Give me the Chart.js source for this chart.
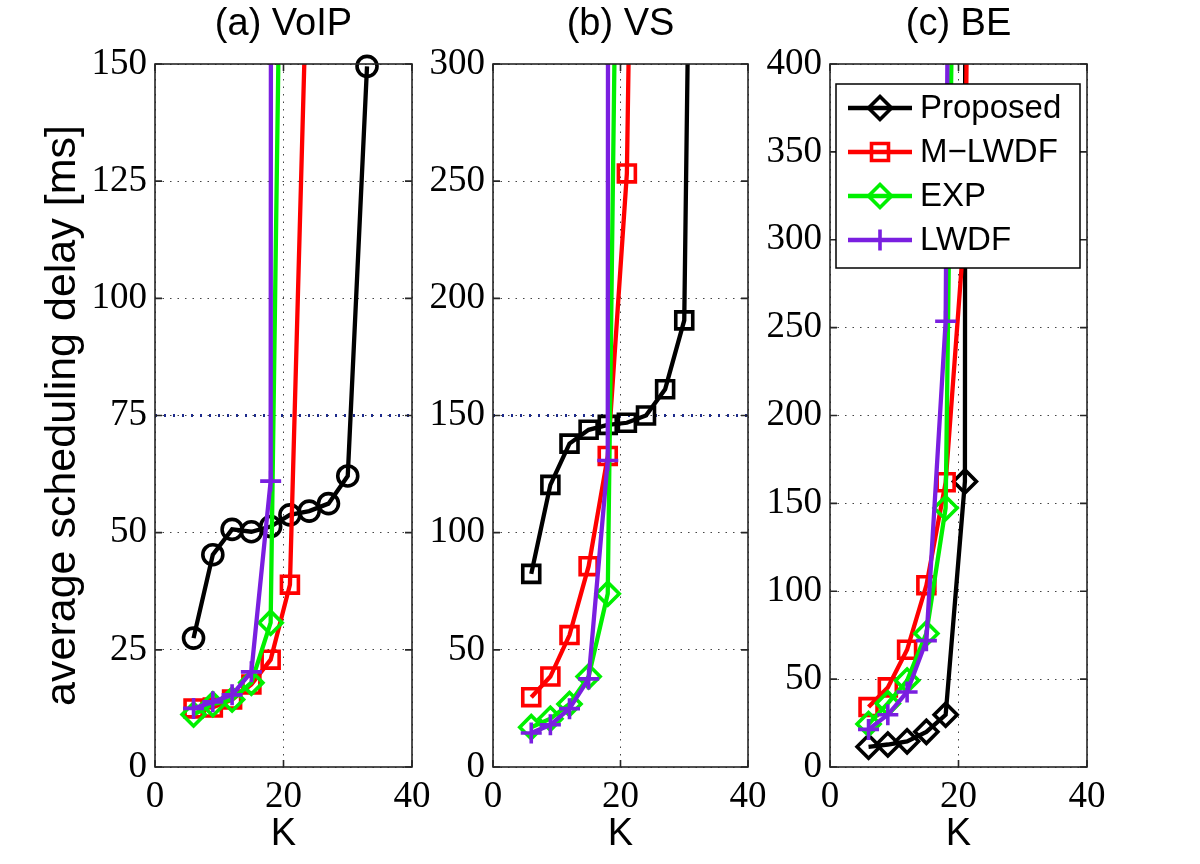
<!DOCTYPE html>
<html><head><meta charset="utf-8">
<script src="https://cdn.jsdelivr.net/npm/chart.js@4.4.1/dist/chart.umd.min.js"></script>
<style>
html,body{margin:0;padding:0;background:#fff;}
#wrap{position:relative;width:1200px;height:864px;background:#fff;}
canvas{position:absolute;left:0;top:0;}
.fl{position:absolute;left:-9999px;top:0;font-size:20px;}
</style></head><body>
<span class="fl" style="font-family:'Liberation Serif'">0123456789</span>
<span class="fl" style="font-family:'Liberation Sans'">Proposed K</span>
<div id="wrap">
<canvas id="cA" width="1200" height="864"></canvas>
<canvas id="cB" width="1200" height="864"></canvas>
<canvas id="cC" width="1200" height="864"></canvas>
</div>
<script>
// ---------------- data ----------------
const K = [6, 9, 12, 15, 18, 21, 24, 27, 30, 33];
const seriesNames = ['Proposed', 'M\u2212LWDF', 'EXP', 'LWDF'];
const panelTitles = ['(a) VoIP', '(b) VS', '(c) BE'];
const xLabel = 'K';
const yLabel = 'average scheduling delay [ms]';
const xTicks = [0, 20, 40];
const yTicksA = [0, 25, 50, 75, 100, 125, 150];
const yTicksB = [0, 50, 100, 150, 200, 250, 300];
const yTicksC = [0, 50, 100, 150, 200, 250, 300, 350, 400];

// (a) VoIP
const voipProposed = [27.5, 45.3, 50.7, 50.2, 51.3, 53.8, 54.6, 56.2, 62.1, 149.5];
const voipMLWDF    = [12.5, 12.7, 14.4, 17.6, 22.9, 38.9, 188];
const voipEXP      = [11.2, 13.4, 14.4, 18.0, 30.8, 330];
const voipLWDF     = [12.5, 13.9, 15.4, 20.3, 61.0, 9000];
// (b) VS
const vsProposed = [82.4, 120.4, 138.0, 143.9, 146.0, 146.9, 150.0, 161.2, 190.6, 820];
const vsMLWDF    = [29.8, 38.6, 56.3, 85.7, 132.7, 253.3, 790];
const vsEXP      = [17.0, 20.6, 26.9, 38.6, 73.9, 725];
const vsLWDF     = [14.5, 18.0, 24.9, 37.6, 130.8, 20000];
// (c) BE
const beProposed = [11.5, 12.8, 14.6, 20.0, 29.7, 162.5, 20000];
const beMLWDF    = [34.1, 45.3, 66.7, 103.4, 162.0, 310, 1400];
const beEXP      = [24.5, 36.2, 49.2, 76.0, 147.4, 1000];
const beLWDF     = [21.4, 29.7, 42.7, 71.9, 253.6, 1900];

// delay bound (dotted line)
const thresholds = [75, 150, null];

// ---------------- styles ----------------
const colors = ['#000000', '#ff0000', '#00f000', '#7a1fe0'];
const SANS = 'Liberation Sans, Arial, Helvetica, sans-serif';
const SERIF = 'Liberation Serif, Times New Roman, Times, serif';

Chart.defaults.font.family = SERIF;

function pts(vals) { return vals.map((v, i) => ({x: K[i], y: v})); }

const framePlugin = {
  id: 'frame',
  afterDatasetsDraw(chart) {
    const {ctx, chartArea: a, scales: {x, y}} = chart;
    ctx.save();
    ctx.strokeStyle = '#262626';
    ctx.lineWidth = 1.6;
    ctx.strokeRect(a.left, a.top, a.right - a.left, a.bottom - a.top);
    ctx.beginPath();
    y.ticks.forEach(t => {
      const py = y.getPixelForValue(t.value);
      ctx.moveTo(a.left, py); ctx.lineTo(a.left + 7, py);
      ctx.moveTo(a.right, py); ctx.lineTo(a.right - 7, py);
    });
    x.ticks.forEach(t => {
      const px = x.getPixelForValue(t.value);
      ctx.moveTo(px, a.bottom); ctx.lineTo(px, a.bottom - 7);
      ctx.moveTo(px, a.top); ctx.lineTo(px, a.top + 7);
    });
    ctx.stroke();
    ctx.restore();
  }
};

function drawMarker(ctx, style, x, y, r) {
  ctx.beginPath();
  if (style === 'circle') {
    ctx.arc(x, y, r, 0, Math.PI * 2);
  } else if (style === 'rect') {
    const s = r * Math.SQRT1_2;
    ctx.rect(x - s, y - s, 2 * s, 2 * s);
  } else if (style === 'rectRot') {
    ctx.moveTo(x - r, y); ctx.lineTo(x, y - r); ctx.lineTo(x + r, y); ctx.lineTo(x, y + r); ctx.closePath();
  } else if (style === 'cross') {
    ctx.moveTo(x - r, y); ctx.lineTo(x + r, y); ctx.moveTo(x, y - r); ctx.lineTo(x, y + r);
  }
  ctx.stroke();
}

const legendPlugin = {
  id: 'boxLegend',
  afterDatasetsDraw(chart) {
    const {ctx, chartArea: a} = chart;
    const ds = chart.data.datasets.filter(d => d.isSeries);
    const left = a.left + 6, top = a.top + 20, w = 244, h = 184;
    ctx.save();
    ctx.fillStyle = '#ffffff';
    ctx.fillRect(left, top, w, h);
    ctx.strokeStyle = '#000';
    ctx.lineWidth = 1.5;
    ctx.strokeRect(left, top, w, h);
    ds.forEach((d, i) => {
      const cy = top + 24 + i * 44;
      ctx.strokeStyle = d.borderColor;
      ctx.lineWidth = d.borderWidth;
      ctx.beginPath();
      ctx.moveTo(left + 12, cy); ctx.lineTo(left + 76, cy);
      ctx.stroke();
      ctx.lineWidth = d.pointBorderWidth;
      drawMarker(ctx, d.pointStyle, left + 44, cy, d.pointRadius);
      ctx.fillStyle = '#000';
      ctx.font = '33px ' + SANS;
      ctx.textBaseline = 'middle';
      ctx.textAlign = 'left';
      ctx.fillText(d.label, left + 84, cy + 1);
    });
    ctx.restore();
  }
};

function makeChart(id, cfg) {
  const datasets = [];
  const markerRadius = {circle: 10, rect: 12, rectRot: 11.5, cross: 10.5};
  cfg.series.forEach((vals, i) => {
    const style = i === 0 ? cfg.proposedMarker : ['circle', 'rect', 'rectRot', 'cross'][i];
    const lastInside = vals[vals.length - 1] <= cfg.yTicks[cfg.yTicks.length - 1];
    datasets.push({
      label: seriesNames[i],
      isSeries: true,
      data: pts(vals),
      borderColor: colors[i],
      backgroundColor: 'rgba(0,0,0,0)',
      borderWidth: 4.3,
      pointStyle: style,
      pointRadius: markerRadius[style],
      pointBorderWidth: 3.6,
      pointBorderColor: colors[i],
      pointBackgroundColor: 'rgba(0,0,0,0)',
      pointHoverRadius: markerRadius[style],
      tension: 0,
      order: 4 - i,
      clip: {left: 15, right: 15, bottom: 15, top: lastInside ? 15 : 0}
    });
  });
  if (cfg.threshold !== null) {
    datasets.push({
      label: 'bound',
      isSeries: false,
      data: [{x: xTicks[0], y: cfg.threshold}, {x: xTicks[xTicks.length - 1], y: cfg.threshold}],
      borderColor: '#1c2a8c',
      borderWidth: 3,
      borderDash: [2, 7],
      pointRadius: 0,
      order: 10,
      clip: 0
    });
  }
  const plugins = [framePlugin];
  if (cfg.legend) plugins.push(legendPlugin);
  return new Chart(document.getElementById(id), {
    type: 'line',
    data: {datasets},
    plugins,
    options: {
      responsive: false,
      animation: false,
      events: [],
      font: {family: SERIF},
      layout: {padding: {left: cfg.left - cfg.yW, right: 1200 - cfg.right, top: 0, bottom: 7}},
      plugins: {
        legend: {display: false},
        tooltip: {enabled: false},
        title: {
          display: true, text: cfg.title, fullSize: false, color: '#000',
          font: {family: SANS, size: 38, weight: 'normal', lineHeight: 1.2},
          padding: {top: 2, bottom: 16.4}
        }
      },
      scales: {
        x: {
          type: 'linear', min: xTicks[0], max: xTicks[xTicks.length - 1],
          afterBuildTicks: s => { s.ticks = xTicks.map(v => ({value: v})); },
          afterFit: s => { s.height = 90; },
          ticks: {color: '#000', padding: 8, maxRotation: 0, autoSkip: false,
                  font: {family: SERIF, size: 37, weight: 'normal', lineHeight: 1.2}},
          grid: {color: '#444', lineWidth: 1, drawTicks: false, borderDash: [1.5, 6]},
          border: {display: false, dash: [1.5, 6]},
          title: {display: true, text: xLabel, color: '#000',
                  font: {family: SANS, size: 38, lineHeight: 1.2}, padding: {top: 0, bottom: 0}}
        },
        y: {
          type: 'linear', min: cfg.yTicks[0], max: cfg.yTicks[cfg.yTicks.length - 1],
          afterBuildTicks: s => { s.ticks = cfg.yTicks.map(v => ({value: v})); },
          afterFit: s => { s.width = cfg.yW; },
          ticks: {color: '#000', padding: 8, autoSkip: false,
                  font: {family: SERIF, size: 37, weight: 'normal', lineHeight: 1.2}},
          grid: {color: '#444', lineWidth: 1, drawTicks: false, borderDash: [1.5, 6]},
          border: {display: false, dash: [1.5, 6]},
          title: {display: !!cfg.yTitle, text: yLabel, color: '#000',
                  font: {family: SANS, size: 43, lineHeight: 1.2}, padding: {top: 17, bottom: 0}}
        }
      }
    }
  });
}

const charts = [
  makeChart('cA', {title: panelTitles[0], left: 155, right: 412, yW: 135, yTitle: true,
    yTicks: yTicksA, proposedMarker: 'circle', threshold: thresholds[0],
    series: [voipProposed, voipMLWDF, voipEXP, voipLWDF]}),
  makeChart('cB', {title: panelTitles[1], left: 493, right: 748, yW: 80, yTitle: false,
    yTicks: yTicksB, proposedMarker: 'rect', threshold: thresholds[1],
    series: [vsProposed, vsMLWDF, vsEXP, vsLWDF]}),
  makeChart('cC', {title: panelTitles[2], left: 830, right: 1087, yW: 80, yTitle: false,
    yTicks: yTicksC, proposedMarker: 'rectRot', threshold: thresholds[2], legend: true,
    series: [beProposed, beMLWDF, beEXP, beLWDF]})
];

if (document.fonts && document.fonts.load) {
  Promise.all([
    document.fonts.load('37px "Liberation Serif"'),
    document.fonts.load('38px "Liberation Sans"')
  ]).then(() => charts.forEach(c => c.update('none'))).catch(() => {});
}
</script>
</body></html>
